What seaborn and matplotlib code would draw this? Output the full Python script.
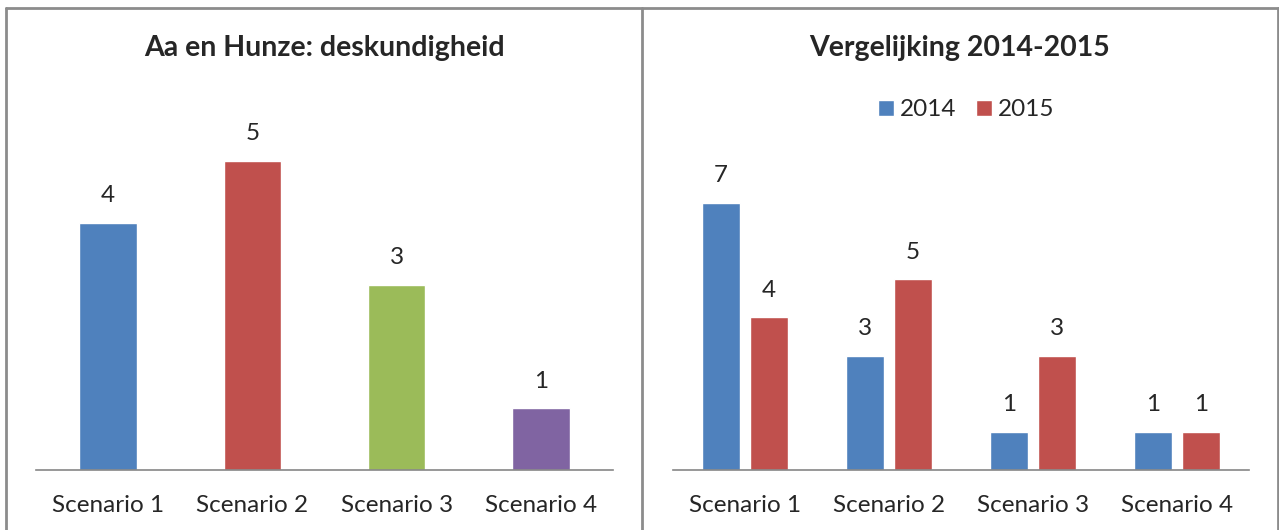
import matplotlib
matplotlib.use("Agg")
import matplotlib.pyplot as plt
from matplotlib.lines import Line2D
import seaborn as sns
import pandas as pd

sns.set_style("white")
plt.rcParams['font.family'] = ['Lato', 'DejaVu Sans']

# data
scenarios = ["Scenario 1", "Scenario 2", "Scenario 3", "Scenario 4"]
deskundigheid = [4, 5, 3, 1]
years = ["2014", "2015"]
values_2014 = [7, 3, 1, 1]
values_2015 = [4, 5, 3, 1]

single_colors = ["#4F81BD", "#C0504D", "#9BBB59", "#8064A2"]
year_colors = ["#4F81BD", "#C0504D"]

df_left = pd.DataFrame({"scenario": scenarios, "value": deskundigheid})
df_right = pd.DataFrame({
    "scenario": scenarios * 2,
    "year": [years[0]] * 4 + [years[1]] * 4,
    "value": values_2014 + values_2015,
})

fig = plt.figure(figsize=(12.79, 5.30), dpi=100)
W, H = 1279, 530

def px_axes(x0, x1, ytop, ybot):
    return fig.add_axes([x0 / W, 1 - ybot / H, (x1 - x0) / W, (ybot - ytop) / H])

ax1 = px_axes(36, 613, 100, 470)
ax2 = px_axes(673, 1249, 100, 470)

sns.barplot(data=df_left, x="scenario", y="value", hue="scenario",
            palette=single_colors, width=0.4, legend=False, ax=ax1, saturation=1)
sns.barplot(data=df_right, x="scenario", y="value", hue="year",
            palette=year_colors, width=0.667, gap=0.21, ax=ax2, saturation=1)

ax1.set_ylim(0, 370 / 61.8)
ax2.set_ylim(0, 370 / 38.14)

for ax in (ax1, ax2):
    ax.set_xlim(-0.5, 3.5)
    ax.set_xlabel("")
    ax.set_ylabel("")
    ax.set_yticks([])
    for s in ["top", "right", "left"]:
        ax.spines[s].set_visible(False)
    ax.spines["bottom"].set_color("#868686")
    ax.spines["bottom"].set_linewidth(1.2)
    ax.tick_params(axis="x", length=0, pad=18, labelsize=17.5)
    for c in ax.containers:
        ax.bar_label(c, padding=12, fontsize=17.5)

h, l = ax2.get_legend_handles_labels()
ax2.legend(h, l, loc="center", bbox_to_anchor=(966 / W, 1 - 110 / H),
           bbox_transform=fig.transFigure, ncol=2, frameon=False,
           fontsize=17.5, handlelength=0.65, handleheight=0.65,
           handletextpad=0.25, columnspacing=0.8)

fig.text(324 / W, 1 - 48 / H, "Aa en Hunze: deskundigheid",
         ha="center", va="center", fontsize=20.5, fontweight="bold")
fig.text(960 / W, 1 - 48 / H, "Vergelijking 2014-2015",
         ha="center", va="center", fontsize=20.5, fontweight="bold")

# panel frames
frame_kw = dict(color="#8c8c8c", linewidth=2, transform=fig.transFigure)
ytop = 1 - 8 / H
fig.add_artist(Line2D([6 / W, 1278 / W], [ytop, ytop], **frame_kw))
for xp in (6, 642, 1278):
    fig.add_artist(Line2D([xp / W, xp / W], [0, ytop], **frame_kw))

fig.savefig("out.png", dpi=100)
